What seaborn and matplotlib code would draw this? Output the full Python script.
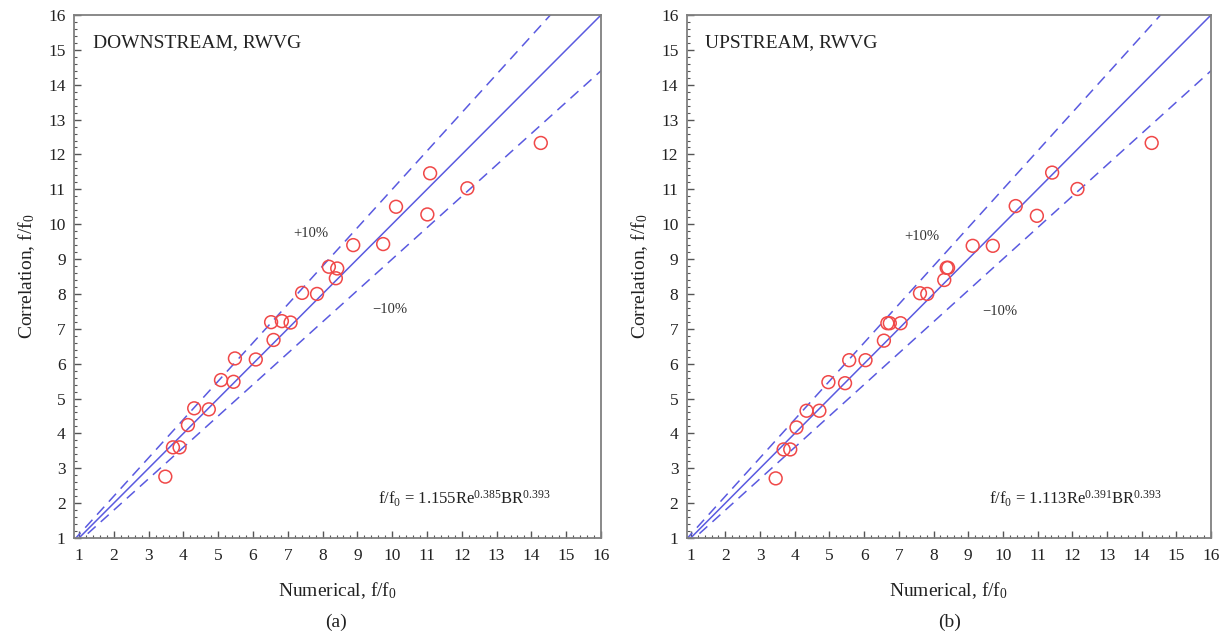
import numpy as np
import pandas as pd
import matplotlib
matplotlib.use("Agg")
import matplotlib.pyplot as plt
import seaborn as sns
from matplotlib.ticker import MultipleLocator

# ---- data ----
down_numerical = [3.48, 3.70, 3.89, 4.13, 4.31, 4.73, 5.08, 5.44, 5.48, 6.08, 6.59, 6.52, 6.83,
                  7.08, 7.41, 7.84, 8.18, 8.42, 8.38, 8.88, 9.74, 10.11, 11.01, 11.09, 12.16, 14.27]
down_correlation = [2.76, 3.60, 3.60, 4.24, 4.72, 4.69, 5.53, 5.48, 6.15, 6.12, 6.68, 7.19, 7.22,
                    7.18, 8.03, 8.00, 8.78, 8.73, 8.45, 9.40, 9.43, 10.50, 10.28, 11.46, 11.03, 12.33]
up_numerical = [3.45, 3.68, 3.87, 4.05, 4.34, 4.71, 4.97, 5.45, 5.57, 6.04, 6.57, 6.67, 6.74,
                7.05, 7.61, 7.82, 8.31, 8.38, 8.42, 9.13, 9.71, 10.37, 10.98, 11.42, 12.15, 14.29]
up_correlation = [2.71, 3.54, 3.54, 4.17, 4.65, 4.65, 5.47, 5.44, 6.10, 6.10, 6.66, 7.16, 7.16,
                  7.16, 8.02, 8.00, 8.40, 8.75, 8.75, 9.38, 9.38, 10.52, 10.24, 11.48, 11.01, 12.33]

ref_x = [0.5, 16.5]
band_factors = [1.0, 1.1, 0.9]          # perfect agreement, +10%, -10%
tick_values = list(range(1, 17))

panel_titles = ["DOWNSTREAM, RWVG", "UPSTREAM, RWVG"]
equations = [r"f/f$\mathregular{_0}$ = 1.155Re$\mathregular{^{0.385}}$BR$\mathregular{^{0.393}}$",
             r"f/f$\mathregular{_0}$ = 1.113Re$\mathregular{^{0.391}}$BR$\mathregular{^{0.393}}$"]
captions = ["(a)", "(b)"]

# ---- style ----
sns.set_theme(style="white")
plt.rcParams["font.family"] = ["Liberation Serif", "DejaVu Serif"]
plt.rcParams["mathtext.fontset"] = "stix"

blue = "#5a5ae0"
red = "#f04848"
spine_c = "#808080"

fig = plt.figure(figsize=(12.28, 6.38), dpi=100)
W, H = 1228, 638
ax_l = fig.add_axes([74 / W, (H - 538) / H, 527 / W, 523 / H])
ax_r = fig.add_axes([686.7 / W, (H - 538) / H, 524.3 / W, 523 / H])

panels = [
    (ax_l, down_numerical, down_correlation, 0.856, (7.65, 9.72), (9.93, 7.56)),
    (ax_r, up_numerical, up_correlation, 0.885, (7.66, 9.66), (9.91, 7.51)),
]

for i, (ax, xs, ys, xmin, plus_pos, minus_pos) in enumerate(panels):
    for f in band_factors:
        df_line = pd.DataFrame({"x": ref_x, "y": [v * f for v in ref_x]})
        ls = "-" if f == 1.0 else (0, (7, 4.5))
        sns.lineplot(data=df_line, x="x", y="y", ax=ax, color=blue, lw=1.1,
                     linestyle=ls, legend=False)
    df_pts = pd.DataFrame({"num": xs, "cor": ys})
    sns.scatterplot(data=df_pts, x="num", y="cor", ax=ax, marker="o", s=85,
                    facecolor="none", edgecolor=red, linewidth=1.1, legend=False, zorder=3)

    ax.set_xlim(xmin, 16)
    ax.set_ylim(1, 16)
    ax.set_xticks(tick_values)
    ax.set_yticks(tick_values)
    ax.xaxis.set_minor_locator(MultipleLocator(0.2))
    ax.yaxis.set_minor_locator(MultipleLocator(0.2))
    ax.tick_params(axis="both", which="both", direction="in", top=False, right=False,
                   bottom=True, left=True, color="#555555", labelsize=12.5, labelcolor="#222222")
    ax.tick_params(axis="both", which="major", length=5, width=1)
    ax.tick_params(axis="both", which="minor", length=2.5, width=0.8)
    ax.tick_params(axis="x", which="major", pad=7)
    ax.tick_params(axis="y", which="major", pad=6)
    for sp in ax.spines.values():
        sp.set_color(spine_c)
        sp.set_linewidth(1.3)
        sp.set_visible(True)

    ax.set_xlabel(r"Numerical, f/f$\mathregular{_0}$", fontsize=14, color="#222222", labelpad=12)
    ax.set_ylabel(r"Correlation, f/f$\mathregular{_0}$", fontsize=14, color="#222222", labelpad=8)

    ax.text(1.40, 15.22, panel_titles[i], fontsize=14, color="#222222", va="center", ha="left")
    ax.text(*plus_pos, "+10%", fontsize=10.5, color="#333333", ha="center", va="center")
    ax.text(*minus_pos, "\u221210%", fontsize=10.5, color="#333333", ha="center", va="center")
    ax.text(9.6, 2.12, equations[i], fontsize=12, color="#222222", ha="left", va="center")

fig.text(336 / W, 1 - 622 / H, captions[0], fontsize=14, ha="center", va="center", color="#222222")
fig.text(950 / W, 1 - 622 / H, captions[1], fontsize=14, ha="center", va="center", color="#222222")

fig.savefig("out.png", dpi=100)
